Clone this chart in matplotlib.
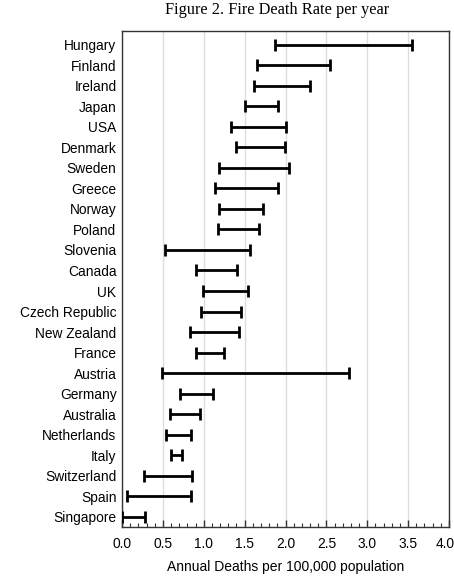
import matplotlib
matplotlib.use("Agg")
import matplotlib.pyplot as plt
import matplotlib.transforms as mtransforms
from matplotlib.ticker import MultipleLocator

countries = ["Hungary", "Finland", "Ireland", "Japan", "USA", "Denmark", "Sweden",
             "Greece", "Norway", "Poland", "Slovenia", "Canada", "UK", "Czech Republic",
             "New Zealand", "France", "Austria", "Germany", "Australia", "Netherlands",
             "Italy", "Switzerland", "Spain", "Singapore"]
low = [1.87, 1.65, 1.62, 1.50, 1.33, 1.40, 1.19, 1.14, 1.19, 1.18, 0.52, 0.90, 0.99,
       0.97, 0.83, 0.90, 0.49, 0.71, 0.59, 0.54, 0.60, 0.27, 0.06, 0.00]
high = [3.55, 2.54, 2.30, 1.91, 2.01, 1.99, 2.04, 1.91, 1.72, 1.68, 1.57, 1.41, 1.54,
        1.46, 1.43, 1.25, 2.78, 1.11, 0.96, 0.84, 0.73, 0.86, 0.84, 0.28]
xticks = [0.0, 0.5, 1.0, 1.5, 2.0, 2.5, 3.0, 3.5, 4.0]

sans = ["Liberation Sans", "DejaVu Sans"]
serif = ["Liberation Serif", "DejaVu Serif"]

fig = plt.figure(figsize=(4.54, 5.77), dpi=100)
W, H = 454, 577
left, right, top, bottom = 122, 449, 31, 527
ax = fig.add_axes([left / W, 1 - bottom / H, (right - left) / W, (bottom - top) / H])

n = len(countries)
ypos = [n - 1 - i for i in range(n)]

ax.hlines(ypos, low, high, color="black", lw=2, zorder=3)
ax.plot(low, ypos, ls="none", marker="|", ms=8, mew=2, color="black", zorder=3)
ax.plot(high, ypos, ls="none", marker="|", ms=8, mew=2, color="black", zorder=3)

ax.set_xlim(0, 4.0)
ax.set_ylim(-0.5, n - 1 + 0.67)
ax.set_xticks(xticks)
ax.set_xticklabels([f"{t:.1f}" for t in xticks], fontfamily=sans, fontsize=9.9)
ax.xaxis.set_minor_locator(MultipleLocator(0.1))
ax.tick_params(axis="x", which="major", direction="in", length=5, width=1, color="#333333", pad=7)
ax.tick_params(axis="x", which="minor", direction="in", length=3, width=0.8, color="#333333")
ax.set_yticks(ypos)
ax.set_yticklabels(countries, fontfamily=sans, fontsize=9.9)
ax.tick_params(axis="y", length=0, pad=4)

# shift last x tick label slightly left so it stays inside the figure
lbl = ax.get_xticklabels()[-1]
lbl.set_transform(lbl.get_transform() + mtransforms.ScaledTranslation(-4 / 100, 0, fig.dpi_scale_trans))

ax.grid(axis="x", which="major", color="#dddddd", lw=1, zorder=0)
ax.set_axisbelow(True)
for s in ax.spines.values():
    s.set_color("#333333")
    s.set_linewidth(1)

ax.set_xlabel("Annual Deaths per 100,000 population", fontfamily=sans, fontsize=10, labelpad=7)
fig.text(277 / W, 1 - 10 / H, "Figure 2. Fire Death Rate per year", fontfamily=serif,
         fontsize=11.8, ha="center", va="center")

fig.savefig("out.png", dpi=100)
